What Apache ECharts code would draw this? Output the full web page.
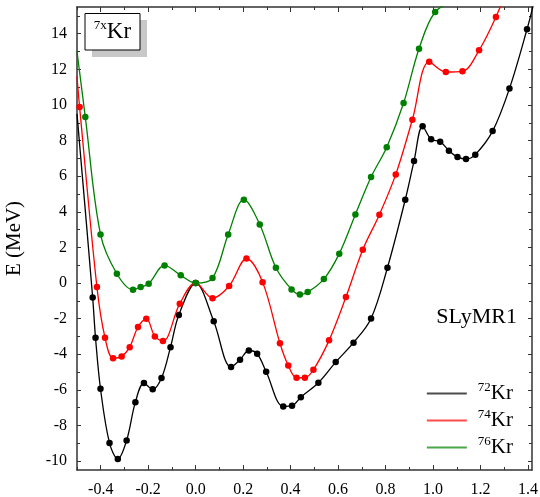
<!DOCTYPE html>
<html>
<head>
<meta charset="utf-8">
<script src="https://cdn.jsdelivr.net/npm/echarts@6/dist/echarts.min.js"></script>
<style>html,body{margin:0;padding:0;background:#fff}#c{width:540px;height:497px}</style>
</head>
<body>
<div id="c"></div>
<script>
// ---- data ----
const kr72X = [-0.5, -0.434, -0.422, -0.401, -0.363, -0.328, -0.291, -0.254, -0.218, -0.181, -0.144, -0.106, -0.071, 0.0, 0.076, 0.149, 0.187, 0.224, 0.259, 0.297, 0.369, 0.406, 0.443, 0.517, 0.590, 0.665, 0.739, 0.808, 0.883, 0.920, 0.956, 0.992, 1.030, 1.067, 1.103, 1.139, 1.178, 1.251, 1.322, 1.396, 1.43];
const kr72E = [9.5, -0.81, -3.07, -5.94, -8.99, -9.88, -8.84, -6.69, -5.62, -5.97, -5.34, -3.60, -1.80, 0.0, -2.14, -4.72, -4.31, -3.79, -3.97, -4.98, -6.93, -6.89, -6.41, -5.60, -4.44, -3.35, -1.99, 0.86, 4.68, 6.85, 8.80, 8.07, 7.94, 7.43, 7.08, 6.96, 7.21, 8.53, 10.92, 14.25, 16.0];
const kr74X = [-0.5, -0.489, -0.416, -0.382, -0.348, -0.312, -0.278, -0.243, -0.208, -0.172, -0.138, -0.067, 0.0, 0.071, 0.141, 0.214, 0.282, 0.355, 0.390, 0.425, 0.460, 0.496, 0.562, 0.633, 0.704, 0.774, 0.843, 0.913, 0.984, 1.054, 1.124, 1.194, 1.265, 1.327];
const kr74E = [11.6, 9.88, -0.23, -3.07, -4.22, -4.12, -3.60, -2.47, -2.00, -3.00, -3.26, -1.16, 0.0, -0.85, -0.17, 1.37, 0.05, -3.38, -4.63, -5.32, -5.32, -4.87, -3.22, -0.79, 1.87, 3.84, 6.10, 9.17, 12.42, 11.85, 11.89, 13.07, 14.94, 17.0];
const kr76X = [-0.5, -0.465, -0.401, -0.332, -0.264, -0.232, -0.198, -0.131, -0.063, 0.0, 0.071, 0.137, 0.203, 0.270, 0.338, 0.404, 0.439, 0.472, 0.540, 0.605, 0.673, 0.739, 0.805, 0.876, 0.941, 1.009, 1.105];
const kr76E = [13.0, 9.32, 2.73, 0.52, -0.38, -0.23, -0.04, 0.99, 0.43, 0.0, 0.28, 2.73, 4.68, 3.29, 0.86, -0.36, -0.64, -0.51, 0.22, 1.65, 3.85, 5.95, 7.63, 10.11, 13.16, 15.22, 15.95];

const seriesNames = ['72Kr', '74Kr', '76Kr'];
const seriesColors = ['#000000', '#ff0000', '#008000'];

const xMin = -0.5, xMax = 1.417, yMin = -10.5, yMax = 15.5;
const xMajorTicks = [-0.4, -0.2, 0.0, 0.2, 0.4, 0.6, 0.8, 1.0, 1.2, 1.4];
const xMinorTicks = [-0.5, -0.3, -0.1, 0.1, 0.3, 0.5, 0.7, 0.9, 1.1, 1.3];
const yMajorTicks = [-10, -8, -6, -4, -2, 0, 2, 4, 6, 8, 10, 12, 14];
const yMinorTicks = [-9, -7, -5, -3, -1, 1, 3, 5, 7, 9, 11, 13, 15];

const FONT = '"Liberation Serif", "DejaVu Serif", serif';

function pairs(xs, ys) { return xs.map((x, i) => [x, ys[i]]); }

const axisLineStyle = { color: '#333', width: 1.5 };

function xAx(pos, ticks, len, labels, line) {
  return {
    type: 'value', position: pos, min: xMin, max: xMax, gridIndex: 0,
    axisLine: { show: line, onZero: false, lineStyle: axisLineStyle },
    axisTick: { show: true, inside: true, length: len, customValues: ticks, lineStyle: { color: '#333', width: 1 } },
    axisLabel: labels ? { show: true, customValues: ticks, margin: 12, color: '#000', fontFamily: FONT, fontSize: 16, formatter: v => v.toFixed(1) } : { show: false },
    splitLine: { show: false }
  };
}
function yAx(pos, ticks, len, labels, line) {
  return {
    type: 'value', position: pos, min: yMin, max: yMax, gridIndex: 0,
    axisLine: { show: line, onZero: false, lineStyle: axisLineStyle },
    axisTick: { show: true, inside: true, length: len, customValues: ticks, lineStyle: { color: '#333', width: 1 } },
    axisLabel: labels ? { show: true, customValues: ticks, margin: 10, color: '#000', fontFamily: FONT, fontSize: 16, formatter: v => String(v) } : { show: false },
    splitLine: { show: false },
    name: labels ? 'E (MeV)' : '', nameLocation: 'middle', nameGap: 52, nameRotate: 90,
    nameTextStyle: { fontFamily: FONT, fontSize: 21, color: '#000' }
  };
}

const symbolFn = (v) => (v[0] <= xMin || v[0] >= xMax || v[1] >= yMax) ? 'none' : 'circle';

function mkSeries(i, xs, ys) {
  return {
    name: seriesNames[i], type: 'line', xAxisIndex: 0, yAxisIndex: 0,
    data: pairs(xs, ys), smooth: 0.35, clip: true,
    symbol: symbolFn, symbolSize: 6.5, showAllSymbol: true,
    lineStyle: { color: seriesColors[i], width: 1.3 },
    itemStyle: { color: seriesColors[i] },
    emphasis: { disabled: true }, z: 2 + i
  };
}

const chart = echarts.init(document.getElementById('c'), null, { renderer: 'canvas' });
chart.setOption({
  animation: false,
  backgroundColor: '#fff',
  grid: { left: 77, right: 8, top: 7, bottom: 27, containLabel: false, outerBoundsMode: 'none' },
  xAxis: [xAx('bottom', xMajorTicks, 5, true, true), xAx('bottom', xMinorTicks, 3, false, false),
          xAx('top', xMajorTicks, 5, false, true), xAx('top', xMinorTicks, 3, false, false)],
  yAxis: [yAx('left', yMajorTicks, 4, true, true), yAx('left', yMinorTicks, 3, false, false),
          yAx('right', yMajorTicks, 4, false, true), yAx('right', yMinorTicks, 3, false, false)],
  legend: {
    orient: 'vertical', right: 22, top: 376, itemWidth: 40, itemHeight: 2, itemGap: 4,
    icon: 'rect', data: seriesNames, selectedMode: false,
    itemStyle: { opacity: 0.7 },
    formatter: n => '{s|' + n.slice(0, 2) + '}{k|Kr}',
    textStyle: {
      padding: [0, 0, 0, 6],
      rich: {
        s: { fontFamily: FONT, fontSize: 13, color: '#000', padding: [0, 0, 12, 0] },
        k: { fontFamily: FONT, fontSize: 21, color: '#000' }
      }
    }
  },
  graphic: [
    { type: 'rect', shape: { x: 92, y: 20, width: 55, height: 37 }, style: { fill: '#c8c8c8' }, z: 10 },
    { type: 'rect', shape: { x: 85, y: 13.5, width: 55, height: 36.5 }, style: { fill: '#fff', stroke: '#000', lineWidth: 1 }, z: 11 },
    { type: 'text', x: 112.5, y: 32, z: 12, style: { text: '{s|7x}{k|Kr}', align: 'center', verticalAlign: 'middle',
        rich: { s: { fontFamily: FONT, fontSize: 13, fill: '#000', padding: [0, 0, 12, 0] }, k: { fontFamily: FONT, fontSize: 23, fill: '#000' } } } },
    { type: 'text', x: 517, y: 317, z: 12, style: { text: 'SLyMR1', align: 'right', verticalAlign: 'middle', fontFamily: FONT, fontSize: 22, fill: '#000' } }
  ],
  series: [mkSeries(0, kr72X, kr72E), mkSeries(1, kr74X, kr74E), mkSeries(2, kr76X, kr76E)]
});
</script>
</body>
</html>
